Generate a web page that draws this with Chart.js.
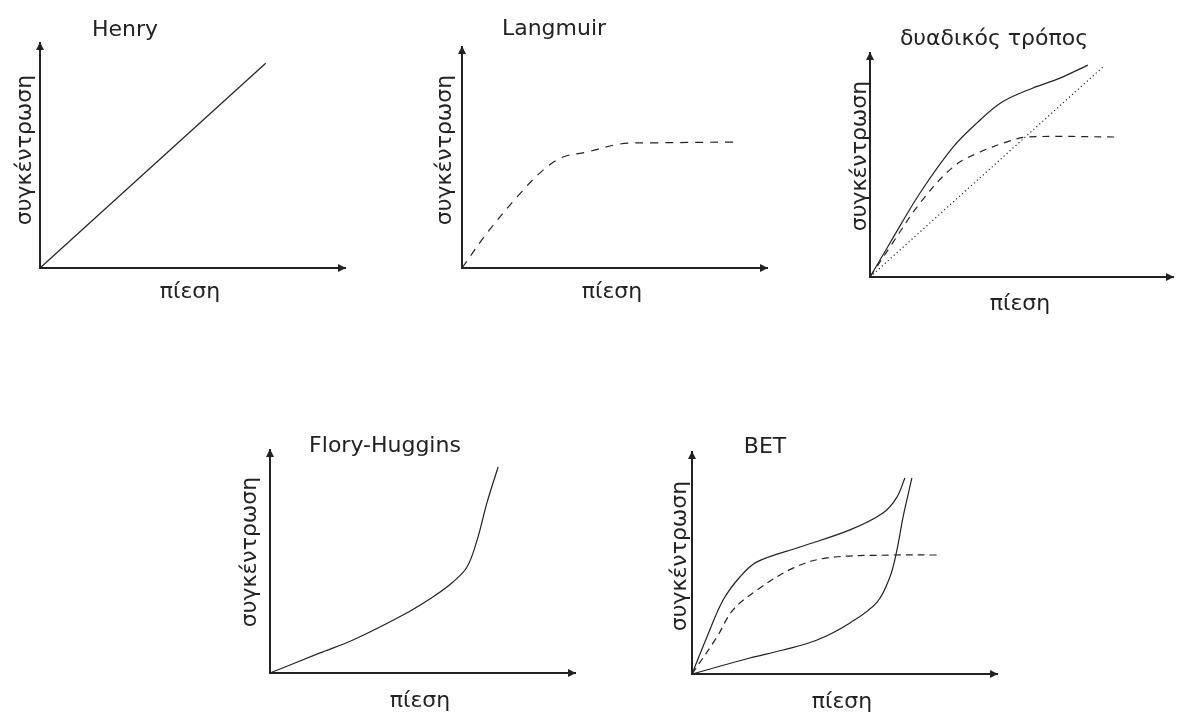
<!DOCTYPE html>
<html>
<head>
<meta charset="utf-8">
<script src="https://cdn.jsdelivr.net/npm/chart.js@4.4.0/dist/chart.umd.min.js"></script>
<style>
    html, body { margin: 0; padding: 0; background: #fff; }
    #page { position: relative; width: 1179px; height: 713px; overflow: hidden; }
    #page canvas { position: absolute; left: 0; top: 0; }
</style>
</head>
<body>
<div id="page">
    <canvas id="henry"></canvas>
    <canvas id="langmuir"></canvas>
    <canvas id="dual"></canvas>
    <canvas id="flory"></canvas>
    <canvas id="bet"></canvas>
</div>
<script>
const xLabel = "πίεση";
const yLabel = "συγκέντρωση";

// Curves, in percent of each axis length (origin = 0, arrow tip = 100)
const henryX = [0, 74];
const henryY = [0, 91];

const langmuirX = [0, 8.2, 18.0, 26.6, 33.1, 41.0, 51.8, 62.6, 88.9];
const langmuirY = [0, 15.8, 32.1, 44.3, 50.2, 52.5, 56.1, 56.6, 57.0];

const dualSolidX = [0, 6.6, 16.5, 27.4, 35.3, 43.6, 53.8, 62.7, 71.9];
const dualSolidY = [0, 15.2, 37.5, 58.0, 68.8, 78.1, 84.4, 88.8, 94.6];
const dualDottedX = [0, 76.9];
const dualDottedY = [0, 93.8];
const dualDashedX = [0, 6.6, 16.5, 27.4, 36.3, 45.2, 51.8, 82.5];
const dualDashedY = [0, 13.4, 33.0, 49.1, 55.8, 60.3, 62.5, 62.5];

const floryX = [0, 16.4, 27.2, 43.6, 53.4, 60.0, 64.6, 67.9, 71.1, 74.8];
const floryY = [0, 9.0, 14.8, 26.0, 34.1, 40.8, 47.5, 59.6, 76.2, 92.4];

const betUpperX = [0, 4.9, 10.2, 15.7, 21.3, 35.4, 51.8, 62.6, 67.2, 69.8];
const betUpperY = [0, 16.7, 33.3, 43.7, 50.5, 57.2, 64.9, 72.5, 79.7, 88.3];
const betLowerX = [0, 19.0, 29.8, 41.0, 51.8, 60.7, 64.9, 67.2, 69.2, 72.1];
const betLowerY = [0, 7.2, 10.8, 15.3, 23.0, 32.4, 43.7, 55.9, 70.7, 88.3];
const betMonoX = [0, 8.2, 13.4, 21.3, 33.1, 44.3, 65.9, 80.3];
const betMonoY = [0, 16.7, 28.8, 37.8, 47.7, 52.3, 53.6, 53.6];

const ink = "#222";
const fontFamily = "'DejaVu Sans', sans-serif";
const fontSize = 22;

function points(xs, ys) {
    return xs.map((x, i) => ({x: x, y: ys[i]}));
}

function curve(xs, ys, dash, smooth) {
    return {
        data: points(xs, ys),
        borderColor: ink,
        borderWidth: 1.2,
        borderDash: dash || [],
        pointRadius: 0,
        fill: false,
        tension: smooth ? 0.35 : 0,
    };
}

// Arrowheads, title and axis captions
const sketchPlugin = {
    id: "sketch",
    afterDraw(chart, args, opts) {
        const ctx = chart.ctx;
        const a = chart.chartArea;
        ctx.save();
        ctx.fillStyle = ink;

        // arrow on x axis
        ctx.beginPath();
        ctx.moveTo(a.right + 1, a.bottom);
        ctx.lineTo(a.right - 7, a.bottom - 4);
        ctx.lineTo(a.right - 7, a.bottom + 4);
        ctx.closePath();
        ctx.fill();
        // arrow on y axis
        ctx.beginPath();
        ctx.moveTo(a.left, a.top - 1);
        ctx.lineTo(a.left - 4, a.top + 7);
        ctx.lineTo(a.left + 4, a.top + 7);
        ctx.closePath();
        ctx.fill();

        ctx.font = fontSize + "px " + fontFamily;
        ctx.textBaseline = "alphabetic";
        ctx.textAlign = "center";
        ctx.fillText(opts.title, opts.titleX, opts.titleBase);
        ctx.fillText(xLabel, opts.xLabelX, opts.xLabelBase);

        ctx.translate(opts.yLabelBase, opts.yLabelY);
        ctx.rotate(-Math.PI / 2);
        ctx.fillText(yLabel, 0, 0);
        ctx.restore();
    }
};

function makePanel(id, frame, text, datasets) {
    const canvas = document.getElementById(id);
    canvas.width = 1179;
    canvas.height = 713;
    const axis = {
        type: "linear",
        min: 0,
        max: 100,
        grid: {display: false, drawTicks: false},
        ticks: {display: false},
        border: {display: true, color: ink, width: 2},
    };
    return new Chart(canvas, {
        type: "line",
        data: {datasets: datasets},
        options: {
            responsive: false,
            animation: false,
            events: [],
            layout: {
                padding: {
                    left: frame.ox,
                    top: frame.yt,
                    right: 1179 - frame.xe,
                    bottom: 713 - frame.oy,
                }
            },
            plugins: {
                legend: {display: false},
                tooltip: {enabled: false},
                sketch: text,
            },
            scales: {
                x: Object.assign({}, axis),
                y: Object.assign({}, axis),
            },
            clip: false,
        },
        plugins: [sketchPlugin],
    });
}

makePanel("henry", {ox: 40, oy: 268, xe: 345, yt: 43}, {
    title: "Henry", titleX: 125, titleBase: 36,
    xLabelX: 190, xLabelBase: 298, yLabelBase: 31, yLabelY: 150,
}, [curve(henryX, henryY)]);

makePanel("langmuir", {ox: 462, oy: 268, xe: 767, yt: 47}, {
    title: "Langmuir", titleX: 554, titleBase: 35,
    xLabelX: 612, xLabelBase: 298, yLabelBase: 451, yLabelY: 150,
}, [curve(langmuirX, langmuirY, [8, 7], true)]);

makePanel("dual", {ox: 870, oy: 277, xe: 1173, yt: 53}, {
    title: "δυαδικός τρόπος", titleX: 994, titleBase: 45,
    xLabelX: 1020, xLabelBase: 310, yLabelBase: 866, yLabelY: 156,
}, [
    curve(dualSolidX, dualSolidY, [], true),
    curve(dualDottedX, dualDottedY, [1.2, 2.8]),
    curve(dualDashedX, dualDashedY, [7, 6], true),
]);

makePanel("flory", {ox: 270, oy: 673, xe: 575, yt: 450}, {
    title: "Flory-Huggins", titleX: 385, titleBase: 452,
    xLabelX: 420, xLabelBase: 707, yLabelBase: 256, yLabelY: 552,
}, [curve(floryX, floryY, [], true)]);

makePanel("bet", {ox: 692, oy: 674, xe: 997, yt: 452}, {
    title: "BET", titleX: 765, titleBase: 453,
    xLabelX: 842, xLabelBase: 708, yLabelBase: 686, yLabelY: 556,
}, [
    curve(betUpperX, betUpperY, [], true),
    curve(betLowerX, betLowerY, [], true),
    curve(betMonoX, betMonoY, [7, 5], true),
]);
</script>
</body>
</html>
